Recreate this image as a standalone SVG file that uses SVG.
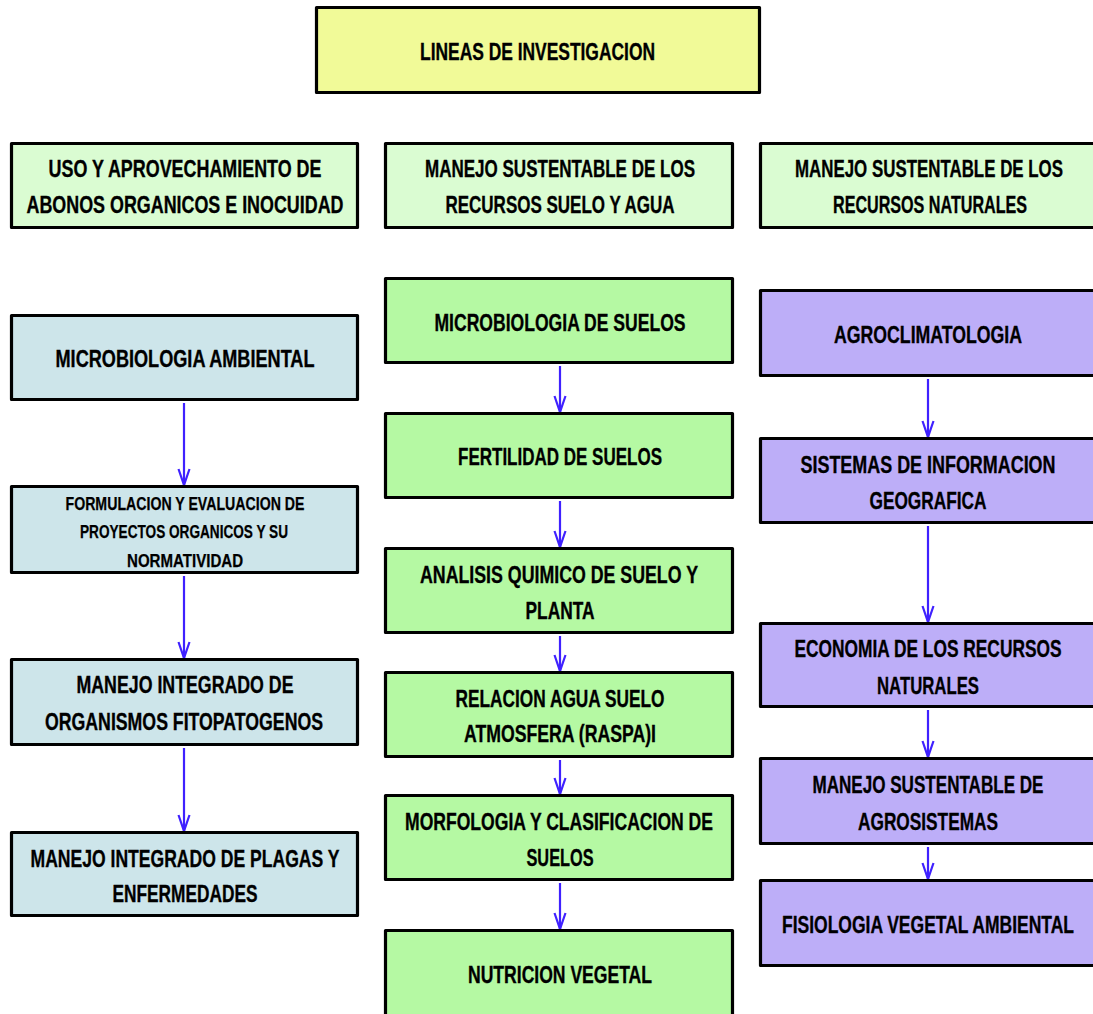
<svg xmlns="http://www.w3.org/2000/svg" width="1093" height="1014" viewBox="0 0 1093 1014">
<style>
.box{stroke:#000;stroke-width:3.2;stroke-linejoin:round}
.title{fill:#F1FA98}
.head{fill:#DAFCD2}
.blue{fill:#CDE5EA}
.green{fill:#B5F9A3}
.purple{fill:#BDAEF8}
text{font-family:"Liberation Sans",Arial,sans-serif;font-weight:bold;font-size:24px;fill:#000;stroke:#000;stroke-width:0.35;text-anchor:middle}
text.s{font-size:19px;stroke-width:0.25}
.arr{stroke:#3F21FF;stroke-width:2.2;fill:none;marker-end:url(#ah)}
</style>
<defs>
<marker id="ah" markerUnits="userSpaceOnUse" markerWidth="20" markerHeight="20" viewBox="-8 -18 16 20" refX="0" refY="0" orient="auto-start-reverse" overflow="visible">
<path d="M-5.5,-16 L0,0 L5.5,-16" transform="rotate(-90)" fill="none" stroke="#3F21FF" stroke-width="2.2"/>
</marker>
</defs>
<rect width="1093" height="1014" fill="#fff"/>
<g id="connectors">
<line class="arr" x1="184" y1="403" x2="184" y2="485"/>
<line class="arr" x1="184" y1="576" x2="184" y2="658"/>
<line class="arr" x1="184" y1="748" x2="184" y2="831"/>
<line class="arr" x1="560" y1="366" x2="560" y2="412"/>
<line class="arr" x1="560" y1="501" x2="560" y2="547"/>
<line class="arr" x1="560" y1="636" x2="560" y2="671"/>
<line class="arr" x1="560" y1="760" x2="560" y2="794"/>
<line class="arr" x1="560" y1="883" x2="560" y2="929"/>
<line class="arr" x1="928" y1="379" x2="928" y2="437"/>
<line class="arr" x1="928" y1="526" x2="928" y2="622"/>
<line class="arr" x1="928" y1="710" x2="928" y2="757"/>
<line class="arr" x1="928" y1="847" x2="928" y2="879"/>
</g>
<g id="n-title"><rect class="box title" x="316.5" y="7.5" width="443" height="85"/>
<text x="537.5" y="60" textLength="235" lengthAdjust="spacingAndGlyphs">LINEAS DE INVESTIGACION</text></g>
<g id="h1"><rect class="box head" x="11.5" y="143.5" width="346" height="84"/>
<text x="185" y="177" textLength="273" lengthAdjust="spacingAndGlyphs">USO Y APROVECHAMIENTO DE</text>
<text x="185" y="213" textLength="317" lengthAdjust="spacingAndGlyphs">ABONOS ORGANICOS E INOCUIDAD</text></g>
<g id="h2"><rect class="box head" x="385.5" y="143.5" width="347" height="84"/>
<text x="560" y="177" textLength="270" lengthAdjust="spacingAndGlyphs">MANEJO SUSTENTABLE DE LOS</text>
<text x="560" y="213" textLength="229" lengthAdjust="spacingAndGlyphs">RECURSOS SUELO Y AGUA</text></g>
<g id="h3"><path class="box head" d="M1093,143.5 H760.5 V227.5 H1093"/>
<text x="929" y="177" textLength="268" lengthAdjust="spacingAndGlyphs">MANEJO SUSTENTABLE DE LOS</text>
<text x="930" y="213" textLength="194" lengthAdjust="spacingAndGlyphs">RECURSOS NATURALES</text></g>
<g id="l1"><rect class="box blue" x="11.5" y="315.5" width="346" height="84"/>
<text x="185" y="367" textLength="259" lengthAdjust="spacingAndGlyphs">MICROBIOLOGIA AMBIENTAL</text></g>
<g id="l2"><rect class="box blue" x="11.5" y="486.5" width="346" height="86"/>
<text class="s" x="185" y="510" textLength="239" lengthAdjust="spacingAndGlyphs">FORMULACION Y EVALUACION DE</text>
<text class="s" x="184" y="538" textLength="208" lengthAdjust="spacingAndGlyphs">PROYECTOS ORGANICOS Y SU</text>
<text class="s" x="185" y="567" textLength="116" lengthAdjust="spacingAndGlyphs">NORMATIVIDAD</text></g>
<g id="l3"><rect class="box blue" x="11.5" y="659.5" width="346" height="85"/>
<text x="185" y="693" textLength="217" lengthAdjust="spacingAndGlyphs">MANEJO INTEGRADO DE</text>
<text x="184" y="730" textLength="278" lengthAdjust="spacingAndGlyphs">ORGANISMOS FITOPATOGENOS</text></g>
<g id="l4"><rect class="box blue" x="11.5" y="832.5" width="346" height="83"/>
<text x="185" y="867" textLength="309" lengthAdjust="spacingAndGlyphs">MANEJO INTEGRADO DE PLAGAS Y</text>
<text x="185" y="902" textLength="145" lengthAdjust="spacingAndGlyphs">ENFERMEDADES</text></g>
<g id="m1"><rect class="box green" x="385.5" y="278.5" width="347" height="84"/>
<text x="560" y="331" textLength="251" lengthAdjust="spacingAndGlyphs">MICROBIOLOGIA DE SUELOS</text></g>
<g id="m2"><rect class="box green" x="385.5" y="413.5" width="347" height="84"/>
<text x="560" y="465" textLength="204" lengthAdjust="spacingAndGlyphs">FERTILIDAD DE SUELOS</text></g>
<g id="m3"><rect class="box green" x="385.5" y="548.5" width="347" height="84"/>
<text x="559" y="583" textLength="278" lengthAdjust="spacingAndGlyphs">ANALISIS QUIMICO DE SUELO Y</text>
<text x="560" y="619" textLength="69" lengthAdjust="spacingAndGlyphs">PLANTA</text></g>
<g id="m4"><rect class="box green" x="385.5" y="672.5" width="347" height="84"/>
<text x="560" y="707" textLength="209" lengthAdjust="spacingAndGlyphs">RELACION AGUA SUELO</text>
<text x="560" y="742" textLength="192" lengthAdjust="spacingAndGlyphs">ATMOSFERA (RASPA)I</text></g>
<g id="m5"><rect class="box green" x="385.5" y="795.5" width="347" height="84"/>
<text x="559" y="830" textLength="308" lengthAdjust="spacingAndGlyphs">MORFOLOGIA Y CLASIFICACION DE</text>
<text x="560" y="866" textLength="67" lengthAdjust="spacingAndGlyphs">SUELOS</text></g>
<g id="m6"><path class="box green" d="M385.5,1014 V930.5 H732.5 V1014"/>
<text x="560" y="983" textLength="184" lengthAdjust="spacingAndGlyphs">NUTRICION VEGETAL</text></g>
<g id="r1"><path class="box purple" d="M1093,290.5 H760.5 V375.5 H1093"/>
<text x="928" y="343" textLength="188" lengthAdjust="spacingAndGlyphs">AGROCLIMATOLOGIA</text></g>
<g id="r2"><path class="box purple" d="M1093,438.5 H760.5 V522.5 H1093"/>
<text x="928" y="473" textLength="255" lengthAdjust="spacingAndGlyphs">SISTEMAS DE INFORMACION</text>
<text x="928" y="509" textLength="117" lengthAdjust="spacingAndGlyphs">GEOGRAFICA</text></g>
<g id="r3"><path class="box purple" d="M1093,623.5 H760.5 V706.5 H1093"/>
<text x="928" y="657" textLength="267" lengthAdjust="spacingAndGlyphs">ECONOMIA DE LOS RECURSOS</text>
<text x="928" y="694" textLength="102" lengthAdjust="spacingAndGlyphs">NATURALES</text></g>
<g id="r4"><path class="box purple" d="M1093,758.5 H760.5 V843.5 H1093"/>
<text x="928" y="793" textLength="231" lengthAdjust="spacingAndGlyphs">MANEJO SUSTENTABLE DE</text>
<text x="928" y="830" textLength="140" lengthAdjust="spacingAndGlyphs">AGROSISTEMAS</text></g>
<g id="r5"><path class="box purple" d="M1093,880.5 H760.5 V965.5 H1093"/>
<text x="928" y="933" textLength="292" lengthAdjust="spacingAndGlyphs">FISIOLOGIA VEGETAL AMBIENTAL</text></g>
</svg>
